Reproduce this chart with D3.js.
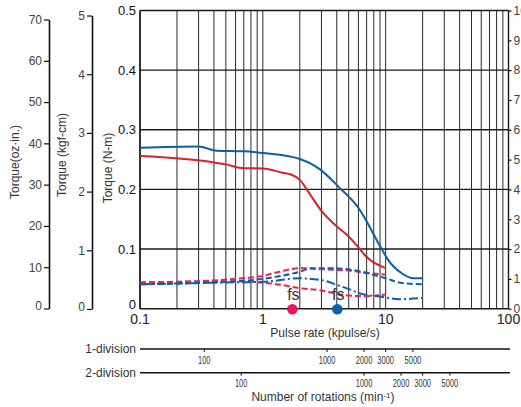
<!DOCTYPE html>
<html><head><meta charset="utf-8">
<script src="https://cdn.jsdelivr.net/npm/d3@7"></script>
<style>
body{margin:0;background:#fff;}
svg{display:block;font-family:"Liberation Sans",Arial,Helvetica,sans-serif;}
</style></head>
<body><svg id="c" width="521" height="407"></svg>
<script>
// ---- data (pulse rate kpulse/s, torque N·m) ----
const blueSolid = [[0.1,.270],[0.3,.272],[0.42,.265],[0.7,.264],[1.0,.261],[2.0,.251],[2.9,.234],[4.2,.203],[5.9,.171],[9.4,.098],[10.3,.084],[13.6,.059],[17,.051],[20,.051]];
const redSolid = [[0.1,.256],[0.38,.246],[0.5,.242],[0.67,.236],[1.0,.235],[1.45,.228],[1.7,.225],[2.0,.216],[2.4,.193],[3.0,.164],[3.9,.140],[5.0,.121],[6.1,.101],[6.9,.088],[10,.068]];
const pinkDashUpper = [[0.1,.044],[0.3,.046],[0.6,.050],[1.0,.055],[1.5,.064],[2.0,.068],[3.0,.066],[5.0,.064],[8.0,.059],[10,.057]];
const blueDash = [[0.1,.041],[0.3,.043],[0.6,.046],[1.0,.050],[2.0,.062],[2.5,.068],[3.5,.068],[5.3,.065],[10,.051],[13.6,.043],[20,.041]];
const blueDashDot = [[0.1,.041],[0.5,.044],[1.0,.045],[2.0,.051],[3.0,.048],[4.0,.040],[5.3,.031],[6.1,.026],[9.3,.020],[12.8,.016],[20,.018]];
const pinkDashLower = [[0.1,.044],[0.5,.046],[0.8,.045],[1.2,.042],[2.1,.034],[2.9,.031],[5.0,.022],[7.0,.021],[10,.024]];
const fsPoints = [{f:1.74,color:"#e8175d"},{f:4.04,color:"#0a5fad"}];
const xTickLabels = [0.1,1,10,100];
const nmTicks = [0,0.1,0.2,0.3,0.4,0.5];
const ozTicks = [0,10,20,30,40,50,60,70];
const kgfTicks = [0,1,2,3,4,5];
const rightTicks = [0,1,2,3,4,5,6,7,8,9,10];
const rpmTicks = [100,1000,2000,3000,5000];
const divisions = [{label:"1-division",stepsPerRev:200},{label:"2-division",stepsPerRev:400}];

const svg = d3.select("#c");
const L=140,R=508.5,T=10.5,B=308.7;
const x = d3.scaleLog().domain([0.1,100]).range([L,R]);
const y = d3.scaleLinear().domain([0,0.5]).range([B,T]);
const yOz = d3.scaleLinear().domain([0,70]).range([308.5,19.5]);
const yKgf = d3.scaleLinear().domain([0,5]).range([309,15.5]);
const yR = d3.scaleLinear().domain([0,10]).range([B,T]);

// grid
const g = svg.append("g");
g.selectAll("line.v").data(x.ticks()).join("line")
  .attr("x1",d=>x(d)).attr("x2",d=>x(d)).attr("y1",T).attr("y2",B)
  .attr("stroke","#2a2a2a").attr("stroke-width",1);
g.selectAll("line.h").data(nmTicks).join("line")
  .attr("x1",L).attr("x2",R).attr("y1",d=>y(d)).attr("y2",d=>y(d))
  .attr("stroke","#1a1a1a").attr("stroke-width",1.4);
g.append("line").attr("x1",L).attr("x2",L).attr("y1",T).attr("y2",B).attr("stroke","#1a1a1a").attr("stroke-width",1.6);
g.append("line").attr("x1",R).attr("x2",R).attr("y1",T).attr("y2",B).attr("stroke","#1a1a1a").attr("stroke-width",1.4);

// curves
const line = d3.line().x(d=>x(d[0])).y(d=>y(d[1])).curve(d3.curveMonotoneX);
const curves = [
  {d:pinkDashLower,c:"#e8245a",dash:"6,3"},
  {d:pinkDashUpper,c:"#e8245a",dash:"6,3"},
  {d:blueDashDot,c:"#0a5fad",dash:"9,3,2,3"},
  {d:blueDash,c:"#0a5fad",dash:"6,3"},
  {d:redSolid,c:"#d9202c",dash:null},
  {d:blueSolid,c:"#0a5fad",dash:null}
];
svg.append("g").selectAll("path").data(curves).join("path")
  .attr("d",d=>line(d.d)).attr("fill","none").attr("stroke",d=>d.c)
  .attr("stroke-width",2).attr("stroke-dasharray",d=>d.dash);

// fs markers
const fsG = svg.append("g");
fsG.selectAll("circle").data(fsPoints).join("circle")
  .attr("cx",d=>x(d.f)).attr("cy",309.3).attr("r",5.3).attr("fill",d=>d.color);
fsG.selectAll("text").data(fsPoints).join("text")
  .attr("x",d=>x(d.f)+1).attr("y",300).attr("text-anchor","middle")
  .attr("font-size",16).attr("fill","#333").text("fs");

// main left axis labels (N·m)
svg.append("g").selectAll("text").data(nmTicks).join("text")
  .attr("x",136).attr("y",d=>y(d)+(d===0?-4:0)).attr("dy","0.35em").attr("text-anchor","end")
  .attr("font-size",13).attr("fill","#111").text(d=>d===0?"0":d3.format(".1f")(d));

// bottom x labels
svg.append("g").selectAll("text").data(xTickLabels).join("text")
  .attr("x",d=>x(d)).attr("y",319).attr("dy","0.35em").attr("text-anchor","middle")
  .attr("font-size",14).attr("fill","#222").text(d=>d);
svg.append("text").attr("x",325).attr("y",333).attr("dy","0.35em").attr("text-anchor","middle")
  .attr("font-size",12).attr("fill","#333").text("Pulse rate (kpulse/s)");

// oz-in axis
const ozAx = svg.append("g").attr("transform","translate(49,0)")
  .call(d3.axisLeft(yOz).tickValues(ozTicks).tickFormat(d3.format("d")).tickSize(5).tickSizeOuter(0).tickPadding(2));
// kgf-cm axis
const kgAx = svg.append("g").attr("transform","translate(92,0)")
  .call(d3.axisLeft(yKgf).tickValues(kgfTicks).tickFormat(d3.format("d")).tickSize(5).tickSizeOuter(0).tickPadding(2));
// right axis
const rAx = svg.append("g").attr("transform",`translate(${R},0)`)
  .call(d3.axisRight(yR).tickValues(rightTicks).tickFormat(d3.format("d")).tickSize(3).tickSizeOuter(0).tickPadding(2));
[ozAx,kgAx,rAx].forEach(a=>{
  a.select(".domain").attr("stroke","#111").attr("stroke-width",1.6);
  a.selectAll(".tick line").attr("stroke","#111").attr("stroke-width",1.2);
  a.selectAll(".tick text").attr("font-size",12).attr("fill","#444")
   .attr("font-family","Liberation Sans,Arial,sans-serif");
});
rAx.select(".domain").remove();
ozAx.selectAll(".tick text").filter(d=>d===0).attr("dy","0.1em");
kgAx.selectAll(".tick text").filter(d=>d===0).attr("dy","0.1em");

// axis titles
const titles = [{t:"Torque(oz·in.)",x:15,y:162},{t:"Torque (kgf-cm)",x:62,y:155},{t:"Torque (N-m)",x:108,y:168}];
svg.append("g").selectAll("text").data(titles).join("text")
  .attr("transform",d=>`translate(${d.x},${d.y}) rotate(-90)`).attr("dy","0.35em")
  .attr("text-anchor","middle").attr("font-size",12).attr("fill","#333").text(d=>d.t);

// division (rotation) scales
const divY = [349,372.7];
divisions.forEach((dv,i)=>{
  const yy = divY[i];
  const gd = svg.append("g");
  gd.append("line").attr("x1",L).attr("x2",R+1.5).attr("y1",yy).attr("y2",yy).attr("stroke","#111").attr("stroke-width",1.6);
  gd.append("text").attr("x",136).attr("y",yy).attr("dy","0.35em").attr("text-anchor","end")
    .attr("font-size",12).attr("fill","#333").text(dv.label);
  const xr = rpm => x(rpm*dv.stepsPerRev/60000);
  gd.selectAll("line.t").data(rpmTicks).join("line")
    .attr("x1",xr).attr("x2",xr).attr("y1",yy).attr("y2",yy+3).attr("stroke","#111");
  gd.selectAll("text.t").data(rpmTicks).join("text")
    .attr("transform",d=>`translate(${xr(d)},${yy+11}) scale(0.75,1)`).attr("dy","0.35em")
    .attr("text-anchor","middle").attr("font-size",10).attr("fill","#333").text(d=>d);
});
const nr = svg.append("text").attr("x",323).attr("y",397).attr("dy","0.35em").attr("text-anchor","middle")
  .attr("font-size",12).attr("fill","#333");
nr.append("tspan").text("Number of rotations (min");
nr.append("tspan").attr("font-size",8).attr("dy","-0.45em").text("-1");
nr.append("tspan").attr("dy","0.3em").text(")");
</script></body></html>
